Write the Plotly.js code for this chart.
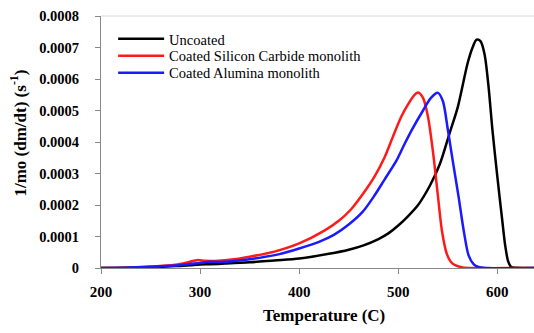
<!DOCTYPE html>
<html><head><meta charset="utf-8">
<script src="https://cdn.plot.ly/plotly-3.0.1.min.js"></script>
<style>html,body{margin:0;padding:0;background:#fff}</style>
</head><body><div id="chart" style="width:534px;height:333px"></div>
<script>
const uncoatedT = [200,225,250,275,290,300,310,325,350,375,400,430,450,465,480,490,500,510,520,532,542,552,560,570,575,579,583,587,591,595,600,605,608,611,614,620,637];
const uncoatedV = [0,0.000001,0.000003,0.000006,0.000009,0.000011,0.000012,0.000014,0.000018,0.000024,0.00003,0.000045,0.000058,0.000072,0.000092,0.00011,0.000135,0.000165,0.0002,0.000262,0.00033,0.00043,0.00051,0.00065,0.0007,0.000725,0.00072,0.00068,0.00058,0.00044,0.00029,0.00015,0.00007,0.00002,0.000003,0.000001,0];
const sicT = [200,225,250,275,290,297,305,315,330,350,375,400,425,440,452,465,476,486,495,503,510,516,520,525,530,535,540,544,549,553,558,565,575,637];
const sicV = [0,0.000001,0.000004,0.00001,0.00002,0.000025,0.000023,0.000022,0.000026,0.000036,0.000052,0.000078,0.000118,0.00015,0.000185,0.000238,0.00029,0.00035,0.00042,0.00048,0.00052,0.000548,0.000557,0.00054,0.00048,0.00037,0.00023,0.00012,0.000045,0.00002,0.000008,0.000002,0,0];
const aluT = [200,225,250,275,290,300,310,320,335,355,380,400,420,435,450,464,476,486,498,505,514,525,533,540,545,550,555,561,566,571,576,581,590,637];
const aluV = [0,0.000001,0.000004,0.000008,0.000013,0.000016,0.00002,0.000019,0.000022,0.00003,0.000044,0.000062,0.000083,0.000105,0.000138,0.000178,0.00023,0.00028,0.00034,0.000385,0.00044,0.0005,0.00054,0.000556,0.00053,0.00044,0.00034,0.000224,0.00012,0.00004,0.000012,0.000003,0,0];

const names = ['Uncoated','Coated Silicon Carbide monolith','Coated Alumina monolith'];
const colors = ['#000000','#ff1a1a','#1a1aff'];
const legendIds = ['legend','legend2','legend3'];
const xs = [uncoatedT, sicT, aluT];
const ys = [uncoatedV, sicV, aluV];

const traces = names.map((n,i)=>({
  x: xs[i], y: ys[i], name: n, type:'scatter', mode:'lines', legend: legendIds[i],
  line:{color:colors[i], width:2.5, shape:'spline', smoothing:0.8}
}));

const serif = '"Liberation Serif", "Times New Roman", serif';
const legendRowsY = [0.909, 0.842, 0.775];
const legendBase = (y)=>({x:0.028, y:y, xanchor:'left', yanchor:'middle', bgcolor:'rgba(0,0,0,0)',
    font:{family:serif, size:14.5, color:'#000'}, itemwidth:46});
const layout = {
  width:534, height:333,
  margin:{l:101, r:0, t:16, b:65},
  paper_bgcolor:'#fff', plot_bgcolor:'#fff',
  showlegend:true,
  legend: legendBase(legendRowsY[0]),
  legend2: legendBase(legendRowsY[1]),
  legend3: legendBase(legendRowsY[2]),
  xaxis:{range:[200,637], tickvals:[200,300,400,500,600], ticks:'outside', ticklen:5,
    tickcolor:'#888', showline:true, linecolor:'#888', linewidth:1, showgrid:false, zeroline:false,
    ticklabelstandoff:5,
    tickfont:{family:serif, size:15, color:'#000', weight:'bold'}},
  yaxis:{range:[0,0.0008], dtick:0.0001, tickformat:'~r', ticks:'outside', ticklen:5,
    tickcolor:'#888', showline:true, linecolor:'#888', linewidth:1, showgrid:false, zeroline:false,
    ticklabelstandoff:13,
    tickfont:{family:serif, size:14.5, color:'#000', weight:'bold'}},
  annotations:[
    {text:'<b>1/mo (dm/dt) (s<sup>-1</sup>)</b>', textangle:-90, xref:'paper', yref:'paper',
     x:-0.1917, y:0.5375, xanchor:'center', yanchor:'middle', showarrow:false,
     font:{family:serif, size:17, color:'#000'}},
    {text:'<b>Temperature (C)</b>', xref:'paper', yref:'paper',
     x:0.515, y:-0.19, xanchor:'center', yanchor:'middle', showarrow:false,
     font:{family:serif, size:17, color:'#000'}}],
  shapes:[{type:'line', xref:'paper', yref:'paper', x0:0, x1:1, y0:1, y1:1, line:{color:'#d8d8d8', width:1}}]
};
Plotly.newPlot('chart', traces, layout, {displayModeBar:false, staticPlot:true});
</script></body></html>
